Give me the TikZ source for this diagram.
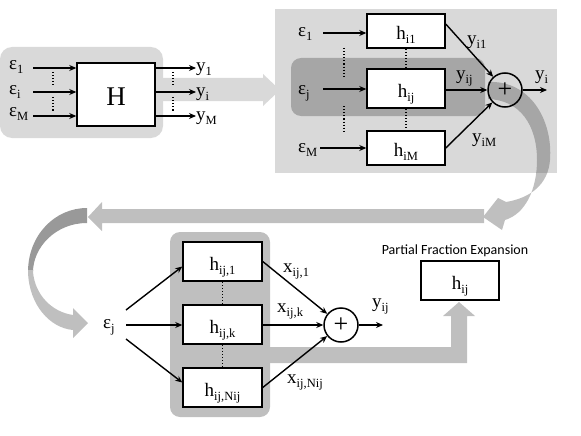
\documentclass[tikz,border=0pt]{standalone}
\usepackage{fontspec}
\setmainfont{Liberation Serif}
\newfontfamily\pfefont{Carlito}
\newfontfamily\serifx{Liberation Serif}
\usetikzlibrary{arrows.meta,calc}
\definecolor{panel}{HTML}{D9D9D9}
\definecolor{darkband}{HTML}{A6A6A6}
\definecolor{midgray}{HTML}{BFBFBF}
\definecolor{crescdark}{HTML}{999999}
\newcommand\lo[1]{\raisebox{-4pt}{\fontsize{12.5}{13}\selectfont #1}}
\newcommand\crescentpath{(87,208) .. controls (55,208) and (28,235) .. (28,272) .. controls (29,305) and (50,328) .. (73,330) -- (73,338) -- (88,323) -- (73,308) -- (73,315) .. controls (52,312) and (35,295) .. (33,272) .. controls (33,248) and (55,223) .. (87,223) -- cycle}
\newcommand\swooshpath{(488,82) .. controls (530,80) and (553,120) .. (550,160) .. controls (548,185) and (530,198) .. (506,202) -- (498,198) -- (483,217) -- (502,230) -- (505,220) .. controls (525,214) and (537,190) .. (537,160) .. controls (537,125) and (520,100) .. (488,99) -- cycle}
\begin{document}
\begin{tikzpicture}[x=1pt,y=-1pt,
  lbl/.style={anchor=base west, inner sep=0, font=\serifx\fontsize{19}{21}\selectfont},
  blk/.style={draw, fill=white, line width=1.5pt, inner sep=0, text height=17pt, text depth=0pt, font=\serifx\fontsize{19}{21}\selectfont},
  con/.style={line width=1.4pt, -{Stealth[length=7pt,width=6pt]}},
  dotline/.style={dotted, line width=1.1pt},
  sumnode/.style={circle, draw, line width=1.5pt, minimum size=34pt, inner sep=0, font=\serifx\fontsize{26}{26}\selectfont}]
\useasboundingbox (0,0) rectangle (581,436);
% ---------- backgrounds ----------
\fill[panel, rounded corners=12pt] (0,47) rectangle (163,138);
\fill[panel] (150,78) -- (263,78) -- (263,74) -- (280,90) -- (263,106) -- (263,101) -- (150,101) -- cycle;
\fill[panel] (275,9) rectangle (557,173);
\fill[darkband, rounded corners=10pt] (291,58) rectangle (485,116);
\begin{scope}
  \clip (275,9) rectangle (557,173);
  \fill[darkband] \swooshpath;
\end{scope}
\begin{scope}
  \clip (0,173) rectangle (581,436);
  \fill[midgray] \swooshpath;
\end{scope}
\fill[midgray] (484,209) -- (102,209) -- (102,202) -- (88,217) -- (102,231) -- (102,223) -- (484,223) -- cycle;
\begin{scope}
  \clip (0,190) rectangle (120,270);
  \fill[crescdark] \crescentpath;
\end{scope}
\begin{scope}
  \clip (0,270) rectangle (120,360);
  \fill[midgray] \crescentpath;
\end{scope}
\fill[midgray] (255,347) -- (451,347) -- (451,316) -- (443,316) -- (459,302) -- (475,316) -- (467,316) -- (467,363) -- (255,363) -- cycle;
\fill[midgray, rounded corners=10pt] (170,232) rectangle (270,417);
% ---------- left panel ----------
\node[blk, minimum width=78pt, minimum height=63pt, text height=21pt, font=\serifx\fontsize{27}{29}\selectfont] (H) at (116,94.5) {H};
\node[lbl] (e1) at (9,70) {ε\lo{1}};
\node[lbl] (ei) at (9,94) {ε\lo{i}};
\node[lbl] (eM) at (9,117) {ε\lo{M}};
\coordinate (a1) at (33,68);
\coordinate (ai) at (33,92);
\coordinate (aM) at (33,116);
\draw[con] (a1) -- (a1 -| H.west);
\draw[con] (ai) -- (ai -| H.west);
\draw[con] (aM) -- (aM -| H.west);
\coordinate (d1) at (53,72); \coordinate (d2) at (53,87);
\coordinate (d3) at (53,97); \coordinate (d4) at (53,112);
\draw[dotline] (d1) -- (d2); \draw[dotline] (d3) -- (d4);
\node[lbl] (y1) at (196,72) {y\lo{1}};
\node[lbl] (yi) at (196,96) {y\lo{i}};
\node[lbl] (yM) at (196,120) {y\lo{M}};
\draw[con] (H.east |- a1) -- (y1.west |- a1);
\draw[con] (H.east |- ai) -- (yi.west |- ai);
\draw[con] (H.east |- aM) -- (yM.west |- aM);
\coordinate (d5) at (173,72); \coordinate (d6) at (173,87);
\coordinate (d7) at (173,97); \coordinate (d8) at (173,112);
\draw[dotline] (d5) -- (d6); \draw[dotline] (d7) -- (d8);
% ---------- right panel ----------
\node[blk, minimum width=78pt, minimum height=34pt] (hi1) at (406,31) {h\lo{i1}};
\node[blk, minimum width=78pt, minimum height=39pt] (hij) at (406,88.5) {h\lo{ij}};
\node[blk, minimum width=78pt, minimum height=34pt] (hiM) at (406,148) {h\lo{iM}};
\node[lbl] (re1) at (298,37) {ε\lo{1}};
\node[lbl] (rej) at (298,95) {ε\lo{j}};
\node[lbl] (reM) at (298,152) {ε\lo{M}};
\coordinate (s1) at (323,33);
\coordinate (sj) at (323,89);
\coordinate (sM) at (320,148);
\draw[con] (s1) -- (s1 -| hi1.west);
\draw[con] (sj) -- (sj -| hij.west);
\draw[con] (sM) -- (sM -| hiM.west);
\coordinate (d9) at (344,48); \coordinate (d10) at (344,76);
\coordinate (d11) at (344,106); \coordinate (d12) at (344,133);
\draw[dotline] (d9) -- (d10); \draw[dotline] (d11) -- (d12);
\draw[dotline] (hi1.south) -- (hij.north);
\draw[dotline] (hij.south) -- (hiM.north);
\node[sumnode] (sum1) at (505,90) {+};
\draw[con] ($(hi1.east)+(0,-7)$) -- (sum1);
\draw[con] (hij.east |- sum1) -- (sum1.west);
\draw[con] (hiM.east) -- (sum1);
\coordinate (out1) at (547,90);
\draw[con] (sum1.east) -- (out1);
\node[lbl] (yi1) at (467,45) {y\lo{i1}};
\node[lbl] (yij) at (456,79) {y\lo{ij}};
\node[lbl] (yiM) at (472,142) {y\lo{iM}};
\node[lbl] (yiout) at (535,80) {y\lo{i}};
% ---------- bottom ----------
\node[blk, minimum width=79pt, minimum height=39pt] (b1) at (222.5,261.5) {h\lo{ij,1}};
\node[blk, minimum width=79pt, minimum height=39pt] (bk) at (222.5,324.5) {h\lo{ij,k}};
\node[blk, minimum width=79pt, minimum height=39pt] (bN) at (222.5,387.5) {h\lo{ij,Nij}};
\draw[dotline] (b1.south) -- (bk.north);
\draw[dotline] (bk.south) -- (bN.north);
\node[lbl] (ej) at (103,328) {ε\lo{j}};
\coordinate (ea) at (126,310);
\coordinate (eb) at (126,325);
\coordinate (ec) at (126,339);
\draw[con] (ea) -- ($(b1.west)+(0,5)$);
\draw[con] (eb) -- (eb -| bk.west);
\draw[con] (ec) -- ($(bN.west)+(0,-5)$);
\node[sumnode] (sum2) at (341,325) {+};
\draw[con] (b1.east) -- (sum2);
\draw[con] (bk.east |- sum2) -- (sum2.west);
\draw[con] (bN.east) -- (sum2);
\coordinate (out2) at (383,325);
\draw[con] (sum2.east) -- (out2);
\node[lbl] (x1) at (283,272) {x\lo{ij,1}};
\node[lbl] (xk) at (277,312) {x\lo{ij,k}};
\node[lbl] (xN) at (287,383) {x\lo{ij,Nij}};
\node[lbl] (yijb) at (372,307) {y\lo{ij}};
\node[blk, minimum width=78pt, minimum height=39pt] (pfe) at (460,280.5) {h\lo{ij}};
\node[font=\pfefont\fontsize{14}{16}\selectfont, inner sep=0, anchor=base] (pfet) at (455,254) {Partial Fraction Expansion};
\end{tikzpicture}
\end{document}
